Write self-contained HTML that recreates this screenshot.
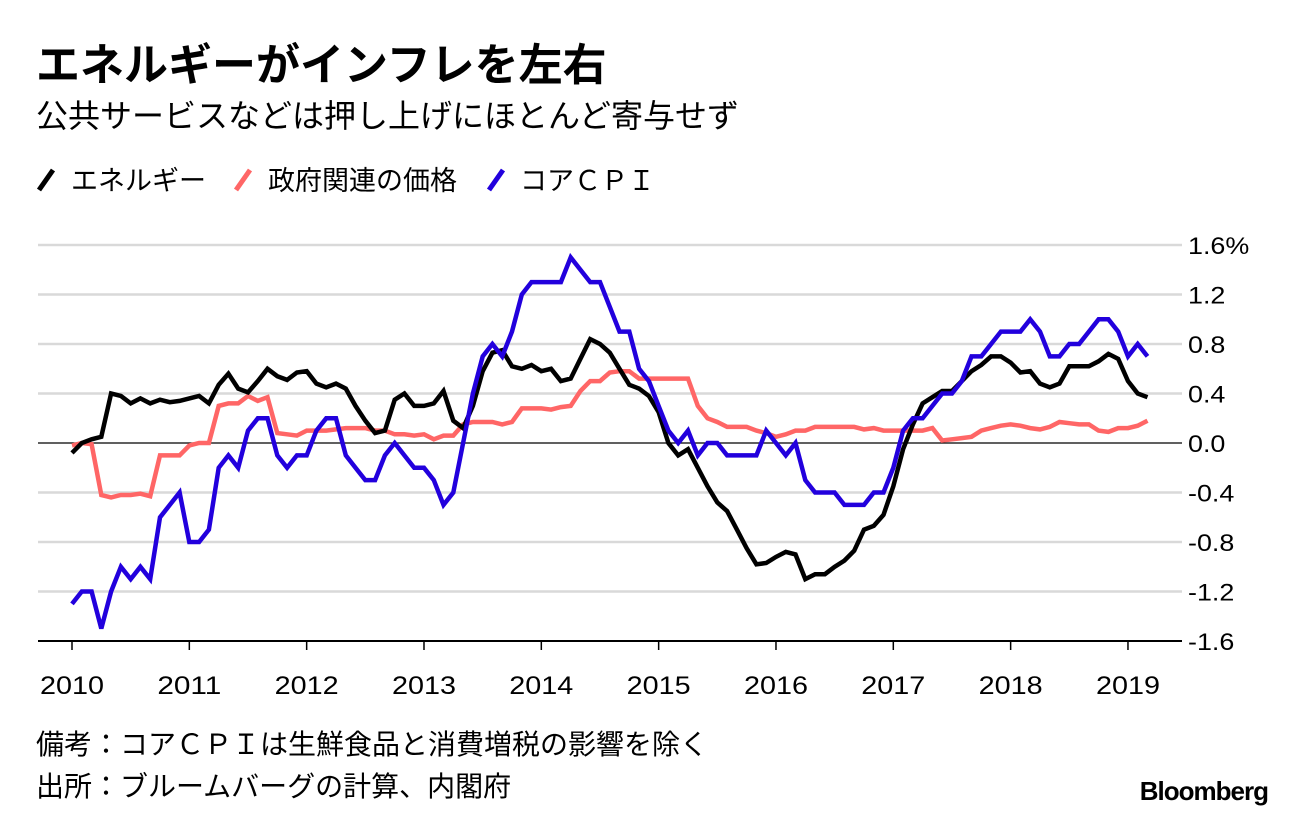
<!DOCTYPE html>
<html><head><meta charset="utf-8"><style>
body{margin:0;background:#fff;width:1296px;height:820px;overflow:hidden;font-family:"Liberation Sans","Noto Sans CJK JP",sans-serif;}
</style></head><body>
<svg id="chart" width="1296" height="820" xmlns="http://www.w3.org/2000/svg">
<text x="36" y="80" font-size="44" font-weight="bold" fill="#000" font-family="Liberation Sans,Noto Sans CJK JP,sans-serif">エネルギーがインフレを左右</text>
<text x="36" y="127" font-size="32" fill="#000" font-family="Liberation Sans,Noto Sans CJK JP,sans-serif">公共サービスなどは押し上げにほとんど寄与せず</text>
<g font-size="27" font-family="Liberation Sans,Noto Sans CJK JP,sans-serif">
<g><line x1="39" y1="190" x2="53" y2="170" stroke="#000" stroke-width="5"/><text x="71" y="190">エネルギー</text></g>
<g><line x1="236" y1="190" x2="250" y2="170" stroke="#ff6666" stroke-width="5"/><text x="268" y="190">政府関連の価格</text></g>
<g><line x1="489" y1="190" x2="503" y2="170" stroke="#2200dd" stroke-width="5"/><text x="520" y="190">コアＣＰＩ</text></g>
</g>
<g id="grid"></g>
<g id="yticks" font-size="24" font-family="Liberation Sans,sans-serif"></g>
<g id="xticks" font-size="25" font-family="Liberation Sans,sans-serif"></g>
<g id="series"></g>
<text x="36" y="754" font-size="28" font-family="Liberation Sans,Noto Sans CJK JP,sans-serif">備考：コアＣＰＩは生鮮食品と消費増税の影響を除く</text>
<text x="36" y="796" font-size="28" font-family="Liberation Sans,Noto Sans CJK JP,sans-serif">出所：ブルームバーグの計算、内閣府</text>
<text x="1268" y="800" font-size="26" font-weight="bold" text-anchor="end" letter-spacing="-1" font-family="Liberation Sans,sans-serif">Bloomberg</text>
</svg>
<script>
const yTicks=[1.6,1.2,0.8,0.4,0.0,-0.4,-0.8,-1.2,-1.6];
const yTickLabels=["1.6%","1.2","0.8","0.4","0.0","-0.4","-0.8","-1.2","-1.6"];
const xYears=[2010,2011,2012,2013,2014,2015,2016,2017,2018,2019];
const startYear=2010;
const energy=[-0.08,0.0,0.03,0.05,0.4,0.38,0.32,0.36,0.32,0.35,0.33,0.34,
0.36,0.38,0.32,0.47,0.56,0.44,0.41,0.5,0.6,0.54,0.51,0.57,
0.58,0.48,0.45,0.48,0.44,0.3,0.18,0.08,0.1,0.35,0.4,0.3,
0.3,0.32,0.42,0.18,0.12,0.3,0.58,0.73,0.75,0.62,0.6,0.63,
0.58,0.6,0.5,0.52,0.68,0.84,0.8,0.73,0.6,0.47,0.44,0.38,
0.25,0.0,-0.1,-0.05,-0.2,-0.35,-0.48,-0.55,-0.7,-0.85,-0.98,-0.97,
-0.92,-0.88,-0.9,-1.1,-1.06,-1.06,-1.0,-0.95,-0.87,-0.7,-0.67,-0.58,
-0.35,-0.05,0.15,0.32,0.37,0.42,0.42,0.5,0.58,0.63,0.7,0.7,
0.65,0.57,0.58,0.48,0.45,0.48,0.62,0.62,0.62,0.66,0.72,0.68,
0.5,0.4,0.37];
const government=[-0.02,0.0,-0.01,-0.42,-0.44,-0.42,-0.42,-0.41,-0.43,-0.1,-0.1,-0.1,
-0.02,0.0,0.0,0.3,0.32,0.32,0.38,0.34,0.37,0.08,0.07,0.06,
0.1,0.1,0.1,0.11,0.12,0.12,0.12,0.1,0.1,0.07,0.07,0.06,
0.07,0.03,0.06,0.06,0.15,0.17,0.17,0.17,0.15,0.17,0.28,0.28,
0.28,0.27,0.29,0.3,0.42,0.5,0.5,0.57,0.58,0.58,0.52,0.52,
0.52,0.52,0.52,0.52,0.3,0.2,0.17,0.13,0.13,0.13,0.1,0.08,
0.05,0.07,0.1,0.1,0.13,0.13,0.13,0.13,0.13,0.11,0.12,0.1,
0.1,0.1,0.1,0.1,0.12,0.02,0.03,0.04,0.05,0.1,0.12,0.14,
0.15,0.14,0.12,0.11,0.13,0.17,0.16,0.15,0.15,0.1,0.09,0.12,
0.12,0.14,0.18];
const coreCpi=[-1.3,-1.2,-1.2,-1.5,-1.2,-1.0,-1.1,-1.0,-1.1,-0.6,-0.5,-0.4,
-0.8,-0.8,-0.7,-0.2,-0.1,-0.2,0.1,0.2,0.2,-0.1,-0.2,-0.1,
-0.1,0.1,0.2,0.2,-0.1,-0.2,-0.3,-0.3,-0.1,0.0,-0.1,-0.2,
-0.2,-0.3,-0.5,-0.4,0.0,0.4,0.7,0.8,0.7,0.9,1.2,1.3,
1.3,1.3,1.3,1.5,1.4,1.3,1.3,1.1,0.9,0.9,0.6,0.5,
0.3,0.1,0.0,0.1,-0.1,0.0,0.0,-0.1,-0.1,-0.1,-0.1,0.1,
0.0,-0.1,0.0,-0.3,-0.4,-0.4,-0.4,-0.5,-0.5,-0.5,-0.4,-0.4,
-0.2,0.1,0.2,0.2,0.3,0.4,0.4,0.5,0.7,0.7,0.8,0.9,
0.9,0.9,1.0,0.9,0.7,0.7,0.8,0.8,0.9,1.0,1.0,0.9,
0.7,0.8,0.7];
const NS="http://www.w3.org/2000/svg";
const X0=72,PXY=117.33,Y0=443,PXU=123.75,L=38,R=1182;
function xScale(m){return X0+m*PXY/12;}
function yScale(v){return Y0-v*PXU;}
function mk(t,a,p){const e=document.createElementNS(NS,t);for(const k in a)e.setAttribute(k,a[k]);p.appendChild(e);return e;}
const grid=document.getElementById('grid'),yt=document.getElementById('yticks'),xt=document.getElementById('xticks'),sg=document.getElementById('series');
yTicks.forEach((v,i)=>{
  const y=yScale(v);
  const isZero=v===0, isBottom=i===yTicks.length-1;
  const ln=mk('line',{x1:L,x2:R,y1:y,y2:y,stroke:isBottom||isZero?'#000':'#d9d9d9','stroke-width':isBottom?2:(isZero?1.3:2.5)},grid);
  
  
  const t=mk('text',{x:1188,y:y+9,fill:'#000'},yt);
  t.textContent=yTickLabels[i];
  
  
  const w=t.getComputedTextLength();
  if(w>0){t.setAttribute('textLength',(w*1.12).toFixed(1));t.setAttribute('lengthAdjust','spacingAndGlyphs');}
});
xYears.forEach(yr=>{
  const x=xScale((yr-startYear)*12);
  const tk=mk('line',{x1:x,x2:x,y1:yScale(-1.6),y2:yScale(-1.6)+9,stroke:'#000','stroke-width':1.5},xt);
  
  
  const t=mk('text',{x:x-32,y:694,textLength:64,lengthAdjust:'spacingAndGlyphs'},xt);
  t.textContent=yr;
  
  
});
function draw(arr,color,name){
  const d=arr.map((v,i)=>(i?'L':'M')+xScale(i).toFixed(1)+','+yScale(v).toFixed(1)).join('');
  const p=mk('path',{d:d,fill:'none',stroke:color,'stroke-width':4.5,'stroke-linejoin':'miter','stroke-miterlimit':3},sg);
  
  
}
draw(government,'#ff6666','government-price-line');
draw(energy,'#000000','energy-line');
draw(coreCpi,'#2200dd','core-cpi-line');
</script>
</body></html>
